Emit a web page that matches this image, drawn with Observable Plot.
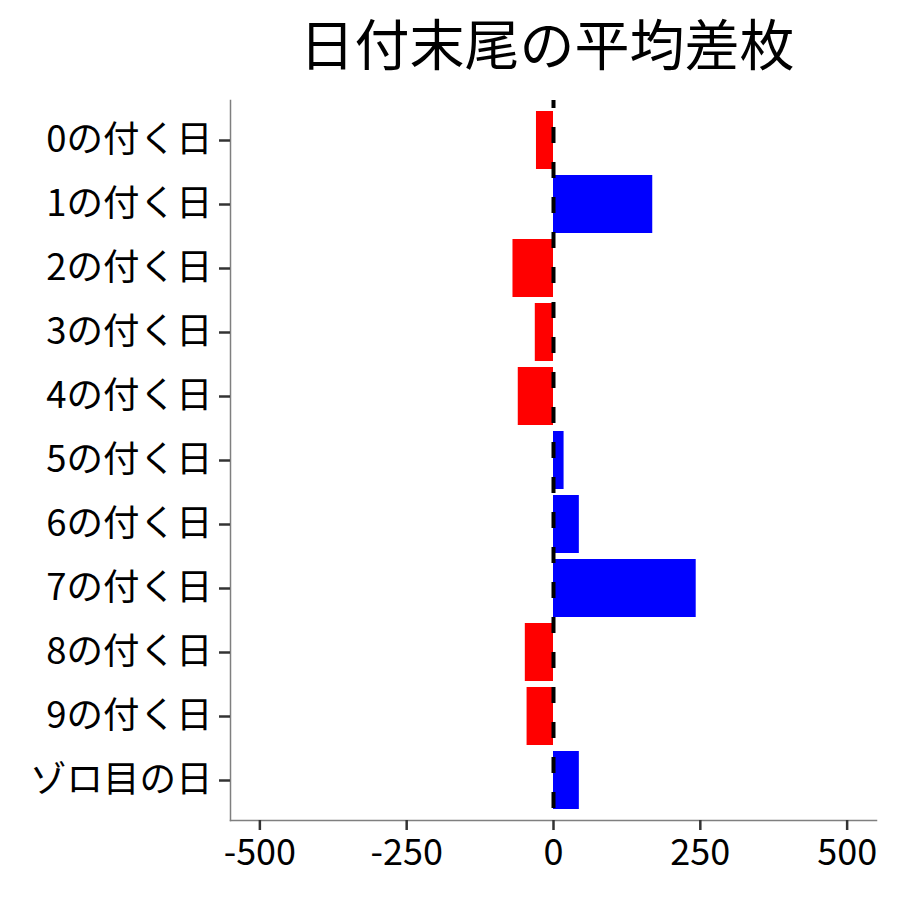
<!DOCTYPE html>
<html>
<head>
<meta charset="utf-8">
<script src="https://cdn.jsdelivr.net/npm/d3@7"></script>
<script src="https://cdn.jsdelivr.net/npm/@observablehq/plot@0.6"></script>
<style>
  html, body { margin: 0; padding: 0; background: #fff; }
  #wrap { position: relative; width: 900px; height: 900px; }
  #title { position: absolute; left: 247px; width: 600px; top: 3px; text-align: center;
           font-family: "Noto Sans CJK JP", sans-serif; font-size: 55px; line-height: 76px; color: #000; }
</style>
</head>
<body>
<div id="wrap">
  <div id="title">日付末尾の平均差枚</div>
  <div id="chart"></div>
</div>
<script>
const categories = ["0の付く日","1の付く日","2の付く日","3の付く日","4の付く日","5の付く日","6の付く日","7の付く日","8の付く日","9の付く日","ゾロ目の日"];
const values = [-29, 169, -69, -31, -60, 18, 44, 243, -48, -45, 44];
const xTicks = [-500, -250, 0, 250, 500];

const data = categories.map((c, i) => ({cat: c, val: values[i]}));

const chart = Plot.plot({
  width: 900,
  height: 900,
  marginLeft: 230,
  marginRight: 24,
  marginTop: 100,
  marginBottom: 80,
  style: { fontFamily: "Noto Sans CJK JP, sans-serif", fontSize: "34px", background: "#fff", color: "#000" },
  x: { domain: [-550, 550], label: null },
  y: { domain: categories, paddingInner: 0.1, paddingOuter: 0.15, label: null },
  marks: [
    Plot.barX(data, { y: "cat", x1: 0, x2: "val", fill: d => d.val < 0 ? "#FF0000" : "#0000FF" }),
    Plot.ruleX([0], { stroke: "#000", strokeWidth: 4, strokeDasharray: "16,19", strokeDashoffset: 8 }),
    Plot.frame({ anchor: "left", stroke: "#7f7f7f", strokeWidth: 1.5 }),
    Plot.frame({ anchor: "bottom", stroke: "#7f7f7f", strokeWidth: 1.5 }),
    Plot.axisX({ ticks: xTicks, tickFormat: d => String(d), tickSize: 10, tickPadding: 9, stroke: "#333", strokeWidth: 2.5, fill: "#000", label: null, fontSize: 36 }),
    Plot.axisY({ tickSize: 11, tickPadding: 7, stroke: "#333", strokeWidth: 2.5, fill: "#000", label: null, fontSize: 36.5 })
  ]
});
document.getElementById("chart").appendChild(chart);
</script>
</body>
</html>
